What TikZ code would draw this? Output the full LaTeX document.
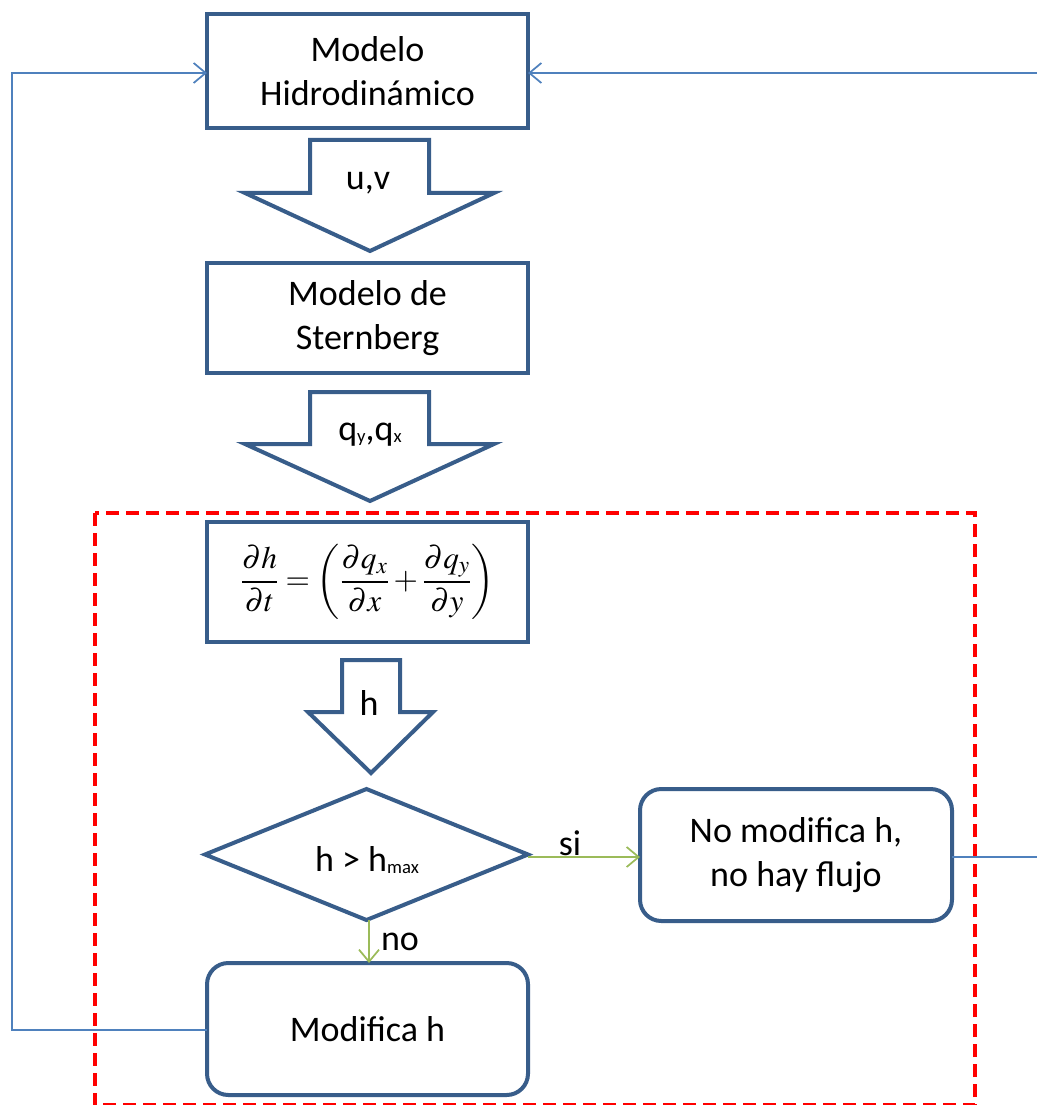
\documentclass[tikz,border=0pt]{standalone}
\usepackage{mathptmx}
\usepackage{fontspec}
\setmainfont{Carlito}
\usetikzlibrary{arrows.meta,shapes.geometric}
\definecolor{boxblue}{HTML}{385D8A}
\definecolor{lineblue}{HTML}{4F81BD}
\definecolor{okgreen}{HTML}{9BBB59}
\definecolor{dashred}{HTML}{FF0000}
\newcommand{\smallsub}[1]{\raisebox{-1pt}{\fontsize{14}{14}\selectfont #1}}
\begin{document}
\begin{tikzpicture}[x=0.75pt,y=-0.75pt,
  boxfont/.style={font=\fontsize{27}{33}\selectfont},
  blk/.style={draw=boxblue,line width=3pt,fill=white,inner sep=0pt,outer sep=0pt,align=center,boxfont},
  rblk/.style={blk,rounded corners=16pt},
  decision/.style={diamond,draw=boxblue,line width=3pt,fill=white,inner sep=0pt,outer sep=0pt,boxfont},
  bigarrow/.style={draw=boxblue,line width=3pt,fill=white,line join=miter},
  loopline/.style={draw=lineblue,line width=1.5pt,-{Straight Barb[length=9pt,width=15pt,line width=1.3pt]}},
  plainloop/.style={draw=lineblue,line width=1.5pt},
  yesno/.style={draw=okgreen,line width=1.5pt,-{Straight Barb[length=9pt,width=15pt,line width=1.3pt]}},
  lbl/.style={boxfont,inner sep=0pt}
]
\useasboundingbox (0,0) rectangle (1037,1105);
\fill[white] (0,0) rectangle (1037,1105);

% red dashed region
\draw[draw=dashred,line width=3pt,dash pattern=on 10pt off 5pt] (95,513) rectangle (975,1105);

% boxes
\node[blk,minimum width=240.75pt,minimum height=85.5pt] (hydro) at (367.5,71) {Modelo\\Hidrodinámico};
\node[blk,minimum width=240.75pt,minimum height=82.5pt] (stern) at (367.5,318) {Modelo de\\Sternberg};
\node[blk,minimum width=240.75pt,minimum height=90pt] (eq) at (367.5,582)
  {\fontsize{23.5}{28}\selectfont$\displaystyle \frac{\partial h}{\partial t}=\left(\frac{\partial q_{x}}{\partial x}+\frac{\partial q_{y}}{\partial y}\right)$};
\node[decision,minimum width=242.25pt,minimum height=98.25pt] (test) at (366.5,854.5) {};
\node[lbl] (testlbl) at (367,860) {h > h\smallsub{max}};
\node[rblk,minimum width=234pt,minimum height=99pt] (nomod) at (796,855) {No modifica h,\\no hay flujo};
\node[rblk,minimum width=240.75pt,minimum height=99pt] (mod) at (367.5,1029) {Modifica h};

% block arrows
\draw[bigarrow] (310,140) -- (429,140) -- (429,193) -- (494,193) -- (370,251) -- (245,193) -- (310,193) -- cycle;
\node[lbl] (uv) at (368,183) {u,v};
\draw[bigarrow] (310,392) -- (429,392) -- (429,444) -- (494,444) -- (370,501) -- (245,444) -- (310,444) -- cycle;
\node[lbl] (q) at (370,435) {q\smallsub{y},q\smallsub{x}};
\draw[bigarrow] (342,660) -- (400,660) -- (400,712) -- (433,712) -- (371,773) -- (308,712) -- (342,712) -- cycle;
\node[lbl] (hlbl) at (369,703) {h};

% decision connectors
\draw[yesno] (test.east |- 0,857) -- (nomod.west |- 0,857);
\node[lbl] (si) at (570,843) {si};
\draw[yesno] (369,920) -- (369,963);
\node[lbl] (no) at (400,942) {no};

% feedback loops
\coordinate (leftcorner1) at (12,1030);
\coordinate (leftcorner2) at (12,73);
\draw[loopline] (mod.west |- 0,1030) -- (leftcorner1) -- (leftcorner2) -- (hydro.west |- 0,73);
\coordinate (rightend1) at (1040,857);
\coordinate (rightend2) at (1040,73);
\draw[plainloop] (nomod.east |- 0,857) -- (rightend1);
\draw[loopline] (rightend2) -- (hydro.east |- 0,73);
\end{tikzpicture}
\end{document}
